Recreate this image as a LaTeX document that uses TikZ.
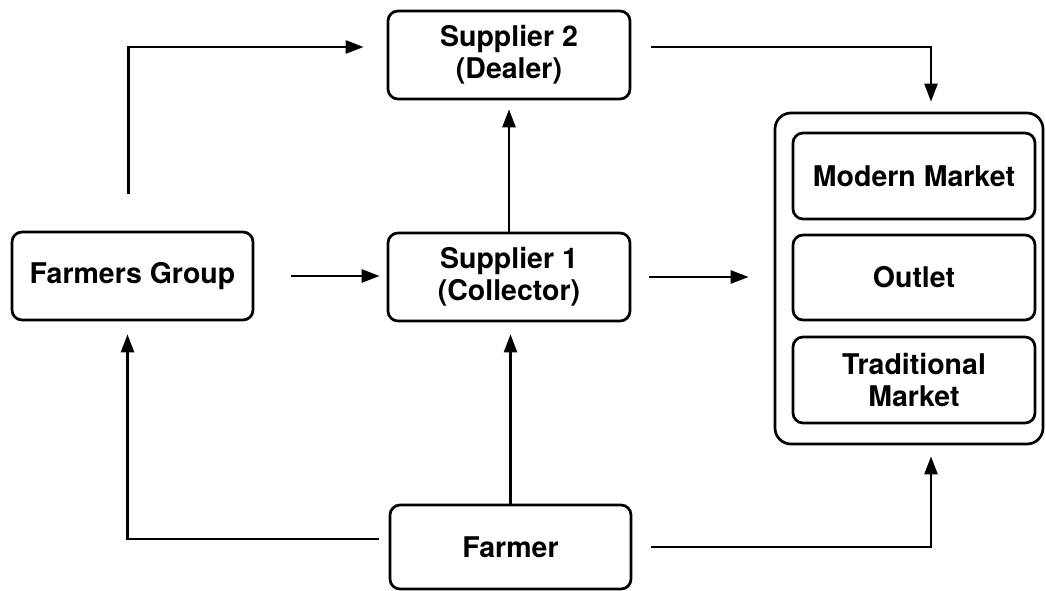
\documentclass[tikz,border=0pt]{standalone}
\usepackage{fontspec}
\setmainfont{TeX Gyre Heros}
\usetikzlibrary{arrows.meta}
\begin{document}
\begin{tikzpicture}[x=1pt,y=-1pt,
  box/.style={draw, line width=2.7pt, rounded corners=10pt, align=center,
    font=\fontsize{28.5}{32}\selectfont\bfseries, inner sep=0pt},
  arr/.style={line width=2.6pt, -{Triangle[length=18pt,width=13pt]}}]
\useasboundingbox (0,0) rectangle (1046,591);
\node[box, minimum width=242pt, minimum height=88pt] (s2) at (509,55) {Supplier 2\\(Dealer)};
\node[box, minimum width=241pt, minimum height=88pt] (fg) at (132.5,276) {Farmers Group};
\node[box, minimum width=242pt, minimum height=88pt] (s1) at (509,277) {Supplier 1\\(Collector)};
\node[box, minimum width=241pt, minimum height=84pt] (farmer) at (510.5,547) {Farmer};
\node[box, rounded corners=16pt, minimum width=268pt, minimum height=331pt] (market) at (909,278.5) {};
\node[box, minimum width=242pt, minimum height=86pt] (mm) at (914,176) {Modern Market};
\node[box, minimum width=242pt, minimum height=85pt] (outlet) at (914,277.5) {Outlet};
\node[box, minimum width=242pt, minimum height=86pt] (trad) at (914,380) {Traditional\\Market};
% connectors
\draw[arr, shorten <=37pt, shorten >=23pt] ([xshift=-4pt]fg.north) |- ([yshift=8pt]s2.west);
\draw[arr, shorten <=20pt, shorten >=10pt] ([yshift=8pt]s2.east) -| ([xshift=22pt]market.north);
\draw[arr, shorten >=9pt] (s1.north) -- (s2.south);
\draw[arr, shorten <=37pt, shorten >=7pt] (fg.east) -- (fg.east -| s1.west);
\draw[arr, shorten <=18pt, shorten >=25pt] (s1.east) -- (s1.east -| market.west);
\draw[arr, shorten >=12pt] (farmer.north) -- (farmer.north |- s1.south);
\draw[arr, shorten <=10pt, shorten >=13pt] ([yshift=8pt]farmer.west) -| ([xshift=-5pt]fg.south);
\draw[arr, shorten <=19pt, shorten >=11pt] (farmer.east) -| ([xshift=22pt]market.south);
\end{tikzpicture}
\end{document}
